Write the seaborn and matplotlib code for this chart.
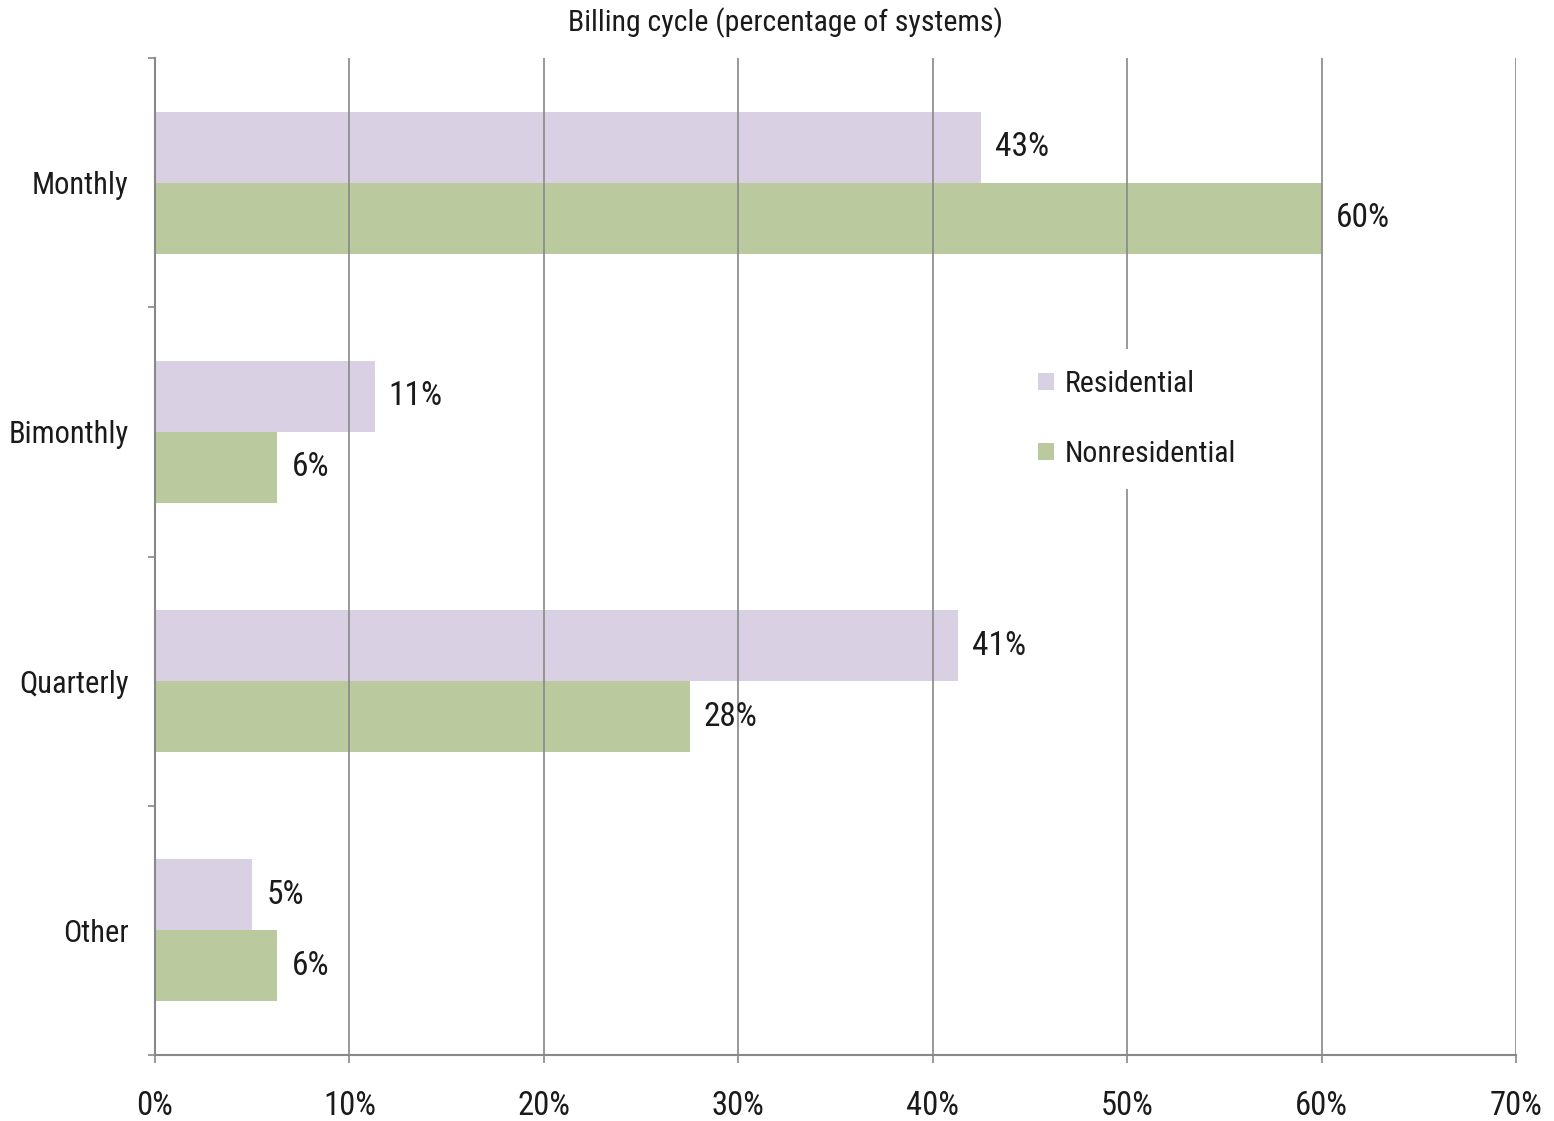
import matplotlib
matplotlib.use("Agg")
import matplotlib.pyplot as plt
import seaborn as sns
import pandas as pd
from matplotlib.ticker import MultipleLocator, FuncFormatter

categories = ["Monthly", "Bimonthly", "Quarterly", "Other"]
residential = [42.5, 11.3, 41.3, 5.0]
nonresidential = [60.0, 6.3, 27.5, 6.3]
res_labels = ["43%", "11%", "41%", "5%"]
nonres_labels = ["60%", "6%", "28%", "6%"]
series_names = ["Residential", "Nonresidential"]
colors = ["#D9D0E3", "#BBCA9E"]
title = "Billing cycle (percentage of systems)"

df = pd.DataFrame({
    "category": categories * 2,
    "value": residential + nonresidential,
    "series": [series_names[0]] * 4 + [series_names[1]] * 4,
})

sns.set_theme(style="white")
plt.rcParams["font.family"] = ["Roboto Condensed", "Archivo Narrow", "DejaVu Sans"]
plt.rcParams["font.weight"] = "normal"

fig = plt.figure(figsize=(15.54, 11.21), dpi=100)
ax = fig.add_axes([155 / 1554, 1 - 1055 / 1121, (1516 - 155) / 1554, (1055 - 58) / 1121])

sns.barplot(data=df, y="category", x="value", hue="series", order=categories,
            hue_order=series_names, palette=colors, saturation=1, width=0.57, gap=0,
            linewidth=0, orient="h", ax=ax, zorder=1)

for cont, labs in zip(ax.containers, [res_labels, nonres_labels]):
    ax.bar_label(cont, labels=labs, padding=10, fontsize=24, color="#1a1a1a")

ax.set_xlim(0, 70)
ax.set_ylim(3.5, -0.5)
ax.xaxis.set_major_locator(MultipleLocator(10))
ax.xaxis.set_major_formatter(FuncFormatter(lambda v, p: f"{int(v)}%"))
ax.set_yticks(range(len(categories)))
ax.set_yticklabels(categories)
ax.set_yticks([-0.5, 0.5, 1.5, 2.5, 3.5], minor=True)
ax.tick_params(axis="y", which="major", length=0, pad=19, labelsize=22, labelcolor="#1a1a1a")
ax.tick_params(axis="y", which="minor", length=5, width=1.2, color="#888888", left=True)
ax.tick_params(axis="x", which="major", length=6, width=1.2, color="#888888", bottom=True,
               direction="out", pad=19, labelsize=23.5, labelcolor="#1a1a1a")

ax.grid(axis="x", color="#888888", linewidth=1.2)
ax.set_axisbelow(False)
for s in ["top", "right"]:
    ax.spines[s].set_visible(False)
for s in ["left", "bottom"]:
    ax.spines[s].set_color("#888888")
    ax.spines[s].set_linewidth(1.5)

ax.set_xlabel("")
ax.set_ylabel("")

leg = ax.legend(loc="center", bbox_to_anchor=(0.7215, 0.638), frameon=True,
                fontsize=21.5, handlelength=0.52, handleheight=0.52, labelspacing=1.4,
                handletextpad=0.35, borderpad=0.7, borderaxespad=0,
                facecolor="white", edgecolor="white", framealpha=1.0)
leg.get_frame().set_linewidth(0)
for t in leg.get_texts():
    t.set_color("#1a1a1a")

fig.text(786 / 1554, 1 - 23 / 1121, title,
         ha="center", va="center", fontsize=21.5, color="#1a1a1a")

fig.savefig("out.png", dpi=100, facecolor="white")
